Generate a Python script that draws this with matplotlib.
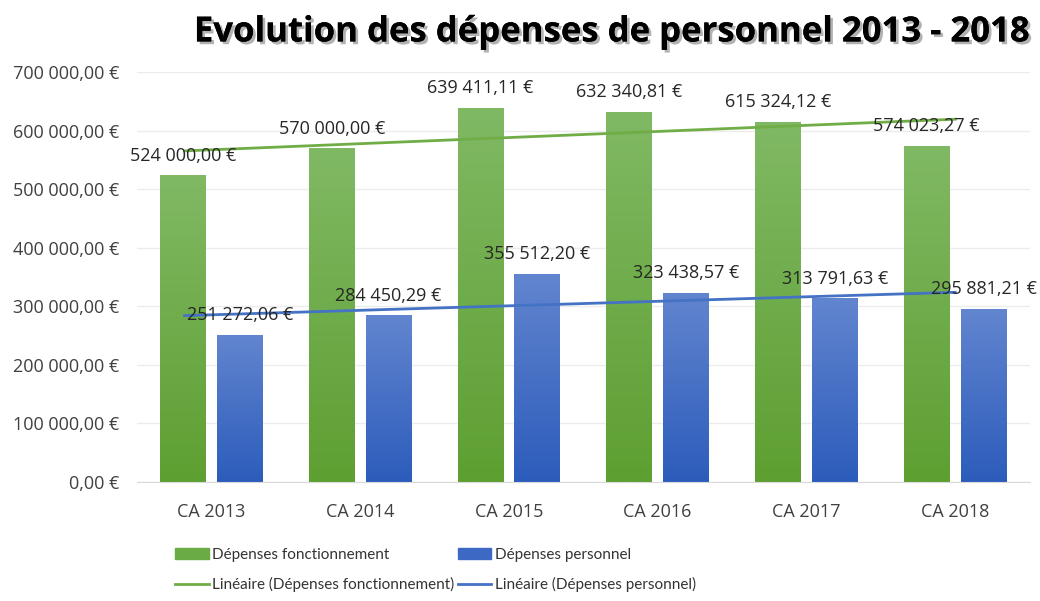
import numpy as np
import matplotlib.pyplot as plt
import matplotlib.patheffects as pe
from matplotlib.lines import Line2D
from matplotlib.patches import Patch
from matplotlib.colors import LinearSegmentedColormap

# données
annees = ["CA 2013", "CA 2014", "CA 2015", "CA 2016", "CA 2017", "CA 2018"]
fonctionnement = [524000.00, 570000.00, 639411.11, 632340.81, 615324.12, 574023.27]
personnel = [251272.06, 284450.29, 355512.20, 323438.57, 313791.63, 295881.21]

plt.rcParams['font.family'] = ['Open Sans', 'DejaVu Sans']

def euro(v):
    s = f"{v:,.2f}".replace(",", " ").replace(".", ",")
    return s + " €"

VERT = ("#80b964", "#5e9f31")
BLEU = ("#6285cf", "#2c5cbb")

fig = plt.figure(figsize=(10.4, 6.01), dpi=100)
ax = fig.add_axes([0.1317, 0.198, 0.8583, 0.682])

x = np.arange(len(annees))
w = 0.308
gap = 0.074

def barres(pos, vals, couleurs):
    cmap = LinearSegmentedColormap.from_list("g", [couleurs[1], couleurs[0]])
    grad = np.linspace(0, 1, 256).reshape(-1, 1)
    for xi, v in zip(pos, vals):
        b = ax.bar(xi, v, w, color=couleurs[1], zorder=2)[0]
        im = ax.imshow(grad, cmap=cmap, origin="lower", aspect="auto",
                       extent=[xi - w/2, xi + w/2, 0, v], zorder=2.5)
        im.set_clip_path(b)
        ax.annotate(euro(v), (xi, v), xytext=(0, 14), textcoords="offset points",
                    ha="center", va="center", fontsize=13, color="#262626", zorder=5)

xg = x - (w + gap) / 2
xb = x + (w + gap) / 2
barres(xg, fonctionnement, VERT)
barres(xb, personnel, BLEU)

# courbes de tendance linéaire
for vals, c in [(fonctionnement, "#70ad47"), (personnel, "#4472c4")]:
    p = np.polyfit(x, vals, 1)
    ax.plot([-0.18, 5.0], [np.polyval(p, 0), np.polyval(p, 5)], color=c, lw=2, zorder=4)

ax.set_xlim(-0.5, 5.5)
ax.set_ylim(0, 700000)
ax.set_yticks(np.arange(0, 700001, 100000))
ax.set_yticklabels([euro(v) for v in np.arange(0, 700001, 100000)])
ax.set_xticks(x)
ax.set_xticklabels(annees)
ax.tick_params(axis="both", length=0, labelsize=13, labelcolor="#404040")
ax.tick_params(axis="y", pad=13)
ax.tick_params(axis="x", pad=15)
ax.grid(axis="y", color="#ececec", lw=1, zorder=0)
ax.set_axisbelow(True)
for s in ["top", "right", "left"]:
    ax.spines[s].set_visible(False)
ax.spines["bottom"].set_color("#d9d9d9")

fig.text(0.99, 0.946, "Evolution des dépenses de personnel 2013 - 2018",
         ha="right", va="center", fontsize=25, fontweight="bold", color="black",
         path_effects=[pe.withSimplePatchShadow(offset=(2, -2), alpha=0.3), pe.Normal()])

handles = [Patch(color="#6aab45"), Patch(color="#3d68c4"),
           Line2D([], [], color="#70ad47", lw=2), Line2D([], [], color="#4472c4", lw=2)]
labels = ["Dépenses fonctionnement", "Dépenses personnel",
          "Linéaire (Dépenses fonctionnement)", "Linéaire (Dépenses personnel)"]
fig.legend([handles[0], handles[2], handles[1], handles[3]],
           [labels[0], labels[2], labels[1], labels[3]],
           ncol=2, loc="center left", bbox_to_anchor=(0.155, 0.052), frameon=False,
           prop={"family": ["Lato", "DejaVu Sans"], "size": 11},
           handlelength=2.2, handleheight=0.7, handletextpad=0.25,
           columnspacing=0.2, labelspacing=1.0, labelcolor="#333333")

fig.savefig("out.png", dpi=100)
